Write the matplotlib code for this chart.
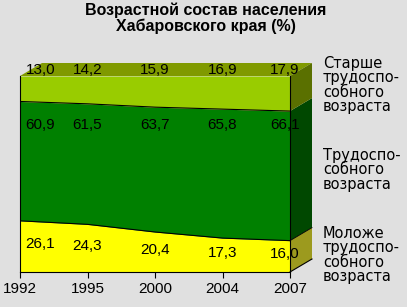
import numpy as np
import matplotlib.pyplot as plt
from matplotlib.patches import Polygon

# --- Données ---
years = ["1992", "1995", "2000", "2004", "2007"]
young = [26.1, 24.3, 20.4, 17.3, 16.0]      # Моложе трудоспособного
working = [60.9, 61.5, 63.7, 65.8, 66.1]    # Трудоспособного
older = [13.0, 14.2, 15.9, 16.9, 17.9]      # Старше трудоспособного
legend_labels = ["Старше\nтрудоспо-\nсобного\nвозраста",
                 "Трудоспо-\nсобного\nвозраста",
                 "Моложе\nтрудоспо-\nсобного\nвозраста"]
title = "Возрастной состав населения\nХабаровского края (%)"

plt.rcParams['font.family'] = ['Liberation Sans', 'DejaVu Sans']

bg = "#e0e0e0"
c_young, c_young_side = "#ffff00", "#9c9a1e"
c_work, c_work_side = "#008000", "#004800"
c_old, c_old_side, c_old_top = "#99cc00", "#5a7000", "#809a00"

W, H = 407, 307
fig = plt.figure(figsize=(W / 100, H / 100), dpi=100, facecolor=bg)
ax = fig.add_axes([20 / W, 35 / H, 270 / W, 196 / H])
ax.set_facecolor(bg)
ax.patch.set_alpha(0)

x = np.arange(len(years))
y1 = np.array(young)
y2 = y1 + np.array(working)
y3 = y2 + np.array(older)

ax.fill_between(x, 0, y1, color=c_young, lw=0)
ax.fill_between(x, y1, y2, color=c_work, lw=0)
ax.fill_between(x, y2, y3, color=c_old, lw=0)
ax.plot(x, y1, color="black", lw=0.8)
ax.plot(x, y2, color="black", lw=0.8)

# profondeur 3D (en unités de données)
ddx = 22 / 67.5
ddy = 13 / 1.96
xr = x[-1]
top = y3[-1]
ax.add_patch(Polygon([(0, top), (xr, top), (xr + ddx, top + ddy), (ddx, top + ddy)],
                     closed=True, fc=c_old_top, ec="none", clip_on=False))
for lo, hi, c in [(0, y1[-1], c_young_side), (y1[-1], y2[-1], c_work_side),
                  (y2[-1], y3[-1], c_old_side)]:
    ax.add_patch(Polygon([(xr, lo), (xr, hi), (xr + ddx, hi + ddy), (xr + ddx, lo + ddy)],
                         closed=True, fc=c, ec="none", clip_on=False))
ax.plot([xr, xr + ddx], [0, ddy], color="black", lw=0.8, clip_on=False)
ax.plot([xr, xr + ddx], [y1[-1], y1[-1] + ddy], color="black", lw=0.6, clip_on=False)
ax.plot([xr, xr], [0, top], color="black", lw=0.8, clip_on=False)

# étiquettes de valeurs
lx = np.clip(x.astype(float), 0.3, 3.92)
for i in range(len(years)):
    ax.text(lx[i], young[i] / 2 + 1, f"{young[i]:.1f}".replace(".", ","),
            ha="center", va="center", fontsize=11)
    ax.text(lx[i], 75, f"{working[i]:.1f}".replace(".", ","),
            ha="center", va="center", fontsize=11)
    ax.text(lx[i], 103, f"{older[i]:.1f}".replace(".", ","),
            ha="center", va="center", fontsize=11, clip_on=False)

ax.set_xlim(0, 4)
ax.set_ylim(0, 100)
ax.set_xticks(x)
ax.set_xticklabels(years, fontsize=11)
ax.set_yticks([])
ax.tick_params(axis="x", direction="out", length=4, width=0.8, pad=3)
for s in ["top", "right"]:
    ax.spines[s].set_visible(False)
ax.spines["left"].set_linewidth(0.8)
ax.spines["bottom"].set_linewidth(0.8)

fig.text(206 / W, 1 - 2 / H, title, ha="center", va="top", fontsize=11.5,
         fontweight="bold", linespacing=1.1)
for lab, ytop in zip(legend_labels, [56, 148, 226]):
    fig.text(323 / W, 1 - ytop / H, lab, ha="left", va="top", fontsize=10.5,
             linespacing=0.95, family=["DejaVu Sans"])

plt.savefig("out.png", dpi=100, facecolor=bg)
